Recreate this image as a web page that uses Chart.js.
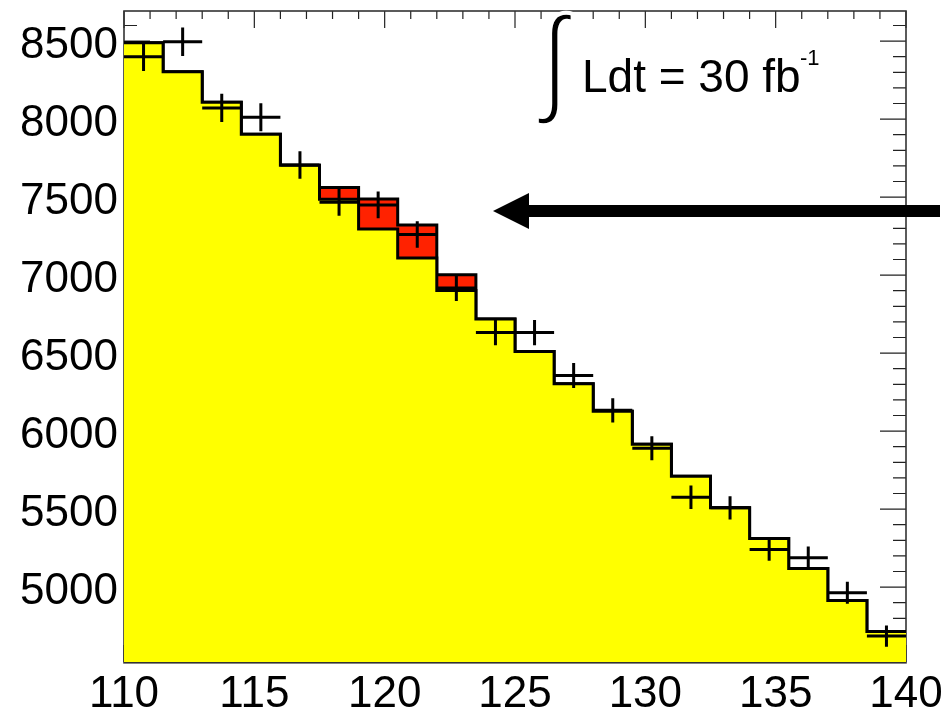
<!DOCTYPE html>
<html>
<head>
<meta charset="utf-8">
<script src="https://cdn.jsdelivr.net/npm/chart.js@4.4.0/dist/chart.umd.min.js"></script>
<style>
  html, body { margin: 0; padding: 0; background: #fff; }
</style>
</head>
<body>
<canvas id="canvas" width="943" height="709"></canvas>
<script>
// 20 bins of width 1.5 between 110 and 140
var binLow = [110, 111.5, 113, 114.5, 116, 117.5, 119, 120.5, 122, 123.5,
              125, 126.5, 128, 129.5, 131, 132.5, 134, 135.5, 137, 138.5];
var binWidth = 1.5;

// expected background (yellow)
var background = [8489, 8303, 8108, 7903, 7704, 7487, 7296, 7109, 6901, 6718,
                  6511, 6304, 6127, 5916, 5711, 5508, 5312, 5120, 4915, 4716];
// signal stacked on top (red)
var signal = [0, 0, 0, 0, 0, 74, 192, 213, 101, 0,
              0, 0, 0, 0, 0, 0, 0, 0, 0, 0];
// pseudo data points and their errors
var dataVal = [8400, 8496, 8072, 8012, 7706, 7467, 7450, 7260, 6917, 6632,
               6632, 6357, 6133, 5890, 5576, 5508, 5241, 5188, 4964, 4686];
var dataErr = [92, 92, 90, 90, 88, 86, 86, 85, 83, 82,
               81, 80, 78, 77, 75, 74, 72, 72, 70, 68];

var xTicks = [110, 115, 120, 125, 130, 135, 140];
var yTicks = [5000, 5500, 6000, 6500, 7000, 7500, 8000, 8500];

var xMin = 110, xMax = 140, yMin = 4520, yMax = 8693;
var FONT = '"Liberation Sans", Arial, Helvetica, sans-serif';

// step points: left edge of each bin + closing point at the last edge
function stepPoints(vals) {
    var pts = vals.map(function(v, i) { return {x: binLow[i], y: v}; });
    pts.push({x: binLow[binLow.length - 1] + binWidth, y: vals[vals.length - 1]});
    return pts;
}
var total = background.map(function(v, i) { return v + signal[i]; });

// ROOT style frame + inner tick marks (drawn below the fills)
var framePlugin = {
    id: 'frame',
    beforeDatasetsDraw: function(chart) {
        var ctx = chart.ctx, a = chart.chartArea;
        var xs = chart.scales.x, ys = chart.scales.y;
        ctx.save();
        ctx.strokeStyle = '#222';
        ctx.lineWidth = 1.2;
        ctx.beginPath();
        for (var v = xMin; v <= xMax; v++) {
            var px = xs.getPixelForValue(v);
            var len = (v % 5 === 0) ? 17 : 8;
            ctx.moveTo(px, a.top); ctx.lineTo(px, a.top + len);
            ctx.moveTo(px, a.bottom); ctx.lineTo(px, a.bottom - len);
        }
        for (var w = 4600; w <= yMax; w += 100) {
            var py = ys.getPixelForValue(w);
            var l2 = (w % 500 === 0) ? 26 : 13;
            ctx.moveTo(a.left, py); ctx.lineTo(a.left + l2, py);
            ctx.moveTo(a.right, py); ctx.lineTo(a.right - l2, py);
        }
        ctx.stroke();
        ctx.lineWidth = 1.6;
        ctx.strokeStyle = '#333';
        ctx.strokeRect(a.left, a.top, a.right - a.left, a.bottom - a.top + 0.8);
        ctx.restore();
    },
    afterDatasetsDraw: function(chart) {
        var ctx = chart.ctx;
        var xs = chart.scales.x, ys = chart.scales.y;
        ctx.save();
        // data crosses
        ctx.strokeStyle = '#000';
        ctx.lineWidth = 3;
        ctx.beginPath();
        for (var i = 0; i < dataVal.length; i++) {
            var x0 = xs.getPixelForValue(binLow[i]);
            var x1 = xs.getPixelForValue(binLow[i] + binWidth);
            var xc = xs.getPixelForValue(binLow[i] + binWidth / 2);
            var yc = ys.getPixelForValue(dataVal[i]);
            ctx.moveTo(x0, yc); ctx.lineTo(x1, yc);
            ctx.moveTo(xc, ys.getPixelForValue(dataVal[i] + dataErr[i]));
            ctx.lineTo(xc, ys.getPixelForValue(dataVal[i] - dataErr[i]));
        }
        ctx.stroke();

        // arrow
        ctx.fillStyle = '#000';
        ctx.fillRect(526, 205, 414, 12);
        ctx.beginPath();
        ctx.moveTo(493, 211);
        ctx.lineTo(529, 193);
        ctx.lineTo(529, 229);
        ctx.closePath();
        ctx.fill();

        // luminosity label: a tall thin integral sign
        ctx.font = '100px ' + FONT;
        var m = ctx.measureText('\u222B');
        var gw = m.actualBoundingBoxLeft + m.actualBoundingBoxRight;
        var gh = m.actualBoundingBoxAscent + m.actualBoundingBoxDescent;
        var sx = 36 / gw, sy = 114 / gh;
        ctx.save();
        ctx.translate(537, 12);
        ctx.scale(sx, sy);
        ctx.textBaseline = 'alphabetic';
        ctx.fillText('\u222B', m.actualBoundingBoxLeft, m.actualBoundingBoxAscent);
        ctx.strokeStyle = '#fff';
        ctx.lineWidth = 3.2 / sx;
        ctx.strokeText('\u222B', m.actualBoundingBoxLeft, m.actualBoundingBoxAscent);
        ctx.restore();

        ctx.textBaseline = 'alphabetic';
        ctx.font = '46px ' + FONT;
        ctx.fillText('Ldt = 30 fb', 582, 92);
        ctx.font = '22px ' + FONT;
        ctx.fillText('-1', 800, 65);
        ctx.restore();
    }
};

function noPadding(s) {
    s.paddingTop = 0; s.paddingBottom = 0;
    s.paddingLeft = 0; s.paddingRight = 0;
}

var ctx = document.getElementById('canvas').getContext('2d');
var config = {
    type: 'line',
    data: {
        datasets: [{
            label: 'background',
            data: stepPoints(background),
            stepped: true,
            fill: 'start',
            backgroundColor: '#ffff00',
            borderColor: '#000',
            borderWidth: 3,
            pointRadius: 0
        }, {
            label: 'signal + background',
            data: stepPoints(total),
            stepped: true,
            fill: 'start',
            backgroundColor: '#ff2200',
            borderColor: '#000',
            borderWidth: 3,
            pointRadius: 0
        }, {
            label: 'data',
            data: dataVal.map(function(v, i) { return {x: binLow[i] + binWidth / 2, y: v}; }),
            showLine: false,
            pointRadius: 0
        }]
    },
    options: {
        responsive: false,
        devicePixelRatio: 1,
        animation: false,
        layout: { padding: { left: 0, top: 11, right: 37, bottom: 0 } },
        plugins: { legend: { display: false }, tooltip: { enabled: false } },
        scales: {
            x: {
                type: 'linear', min: xMin, max: xMax,
                grid: { display: false, drawTicks: false },
                border: { display: false },
                afterBuildTicks: function(s) { s.ticks = xTicks.map(function(v) { return {value: v}; }); },
                afterFit: function(s) { s.height = 47; noPadding(s); },
                ticks: { color: '#000', font: { family: FONT, size: 44 }, padding: 6, maxRotation: 0, autoSkip: false,
                         callback: function(v) { return String(v); } }
            },
            y: {
                type: 'linear', min: yMin, max: yMax,
                grid: { display: false, drawTicks: false },
                border: { display: false },
                afterBuildTicks: function(s) { s.ticks = yTicks.map(function(v) { return {value: v}; }); },
                afterFit: function(s) { s.width = 124; noPadding(s); },
                ticks: { color: '#000', font: { family: FONT, size: 44 }, padding: 6, labelOffset: 5,
                         callback: function(v) { return String(v); } }
            }
        }
    },
    plugins: [framePlugin]
};
var chart = new Chart(ctx, config);
</script>
</body>
</html>
